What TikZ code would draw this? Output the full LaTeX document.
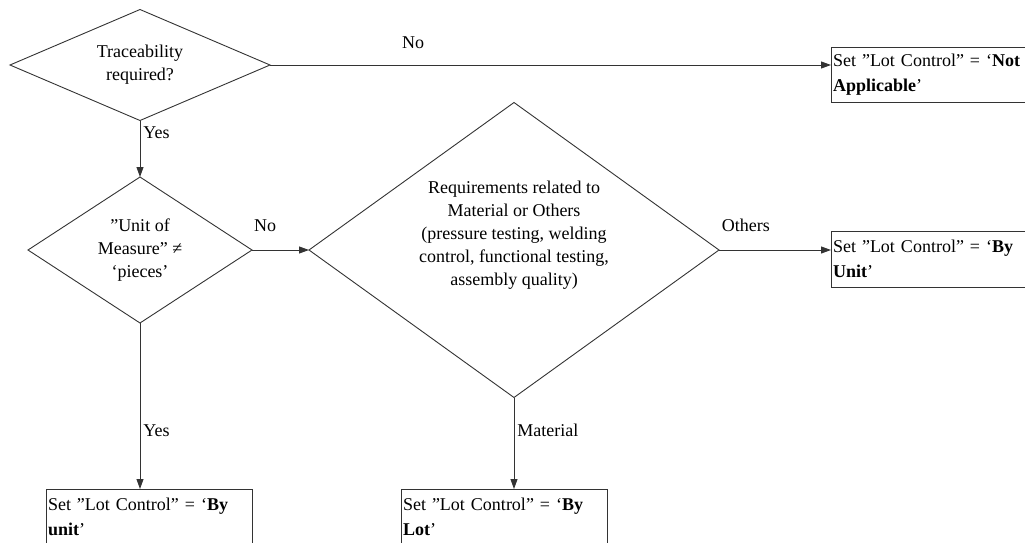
\documentclass[tikz,border=0pt]{standalone}
\usepackage{fontspec}
\newfontfamily\diagfont{Liberation Serif}
\usetikzlibrary{shapes.geometric,arrows.meta}
\begin{document}
\begin{tikzpicture}[
        x=1pt, y=-1pt,
        every node/.style={font=\diagfont\fontsize{18}{23}\selectfont, inner sep=2pt},
        decision/.style={diamond, draw=black!80, line width=0.9pt, align=center, inner sep=0pt, outer sep=0pt},
        setbox/.style={rectangle, draw=black!80, line width=0.9pt, text width=202pt, minimum height=55pt,
          align=left, anchor=north west, outer sep=0pt, font=\diagfont\fontsize{18}{25}\selectfont},
        flow/.style={draw=black!80, line width=0.9pt, -{Triangle[length=10pt,width=7pt]}}
    ]
      \useasboundingbox (0,0) rectangle (1025,542);

      % Ромбы решений
      \node[decision, minimum width=260pt, minimum height=111pt, aspect=2] (trace) at (140,65)
        {Traceability\\required?};
      \node[decision, minimum width=224pt, minimum height=146pt, aspect=1.5] (uom) at (140,250)
        {”Unit of\\Measure” ≠\\‘pieces’};
      \node[decision, minimum width=410pt, minimum height=295pt, aspect=1.4] (req) at (514,250)
        {Requirements related to\\Material or Others\\(pressure testing, welding\\control, functional testing,\\assembly quality)\\[10pt]\mbox{}};

      % Блоки результата
      \node[setbox] (naBox) at (831,47) {Set ”Lot Control” = ‘\textbf{Not}\\\textbf{Applicable}’};
      \node[setbox, minimum height=56pt] (byUnitBox) at (831,231) {Set ”Lot Control” = ‘\textbf{By}\\\textbf{Unit}’};
      \node[setbox] (unitBox) at (46,489) {Set ”Lot Control” = ‘\textbf{By}\\\textbf{unit}’};
      \node[setbox] (lotBox) at (401,489) {Set ”Lot Control” = ‘\textbf{By}\\\textbf{Lot}’};

      % Стрелки
      \draw[flow] (trace.east) -- node[pos=.255, above=14pt] {No} (trace.east -| naBox.west);
      \draw[flow] (trace.south) -- node[pos=.21, right=1pt] {Yes} (uom.north);
      \draw[flow] (uom.east) -- node[pos=.23, above=16pt] {No} (req.west);
      \draw[flow] (req.east) -- node[pos=.24, above=16pt] {Others} (req.east -| byUnitBox.west);
      \draw[flow] (uom.south) -- node[pos=.65, right=1pt] {Yes} (uom.south |- unitBox.north);
      \draw[flow] (req.south) -- node[pos=.36, right=1pt] {Material} (req.south |- lotBox.north);
    \end{tikzpicture}
\end{document}
